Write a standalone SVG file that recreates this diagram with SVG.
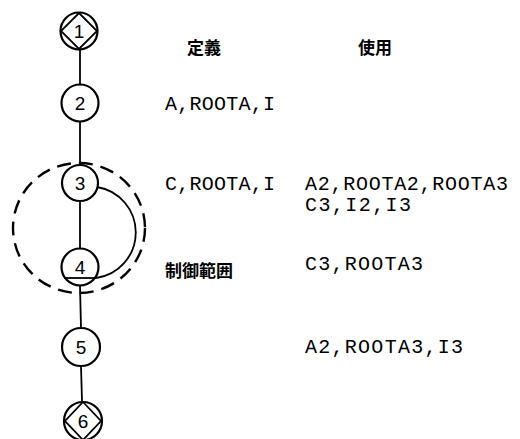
<svg xmlns="http://www.w3.org/2000/svg" width="520" height="439" viewBox="0 0 520 439">
<style>
.node circle{fill:#fff;stroke:#000;stroke-width:2.2}
.num{font-family:"Liberation Sans",Arial,sans-serif;font-size:19px;text-anchor:middle;fill:#000}
.dia{fill:none;stroke:#000;stroke-width:1.8}
.edge{stroke:#000;stroke-width:1.8;fill:none}
.mono{font-family:"Liberation Mono","Courier New",monospace;font-size:20px;fill:#000}
.cjk{font-family:"Noto Sans CJK JP","Noto Sans CJK SC",sans-serif;font-size:17px;font-weight:bold;fill:#000}
</style>
<rect width="520" height="439" fill="#fff"/>
<g id="connectors">
<line class="edge" x1="80" y1="49" x2="80" y2="85"/>
<line class="edge" x1="80" y1="122" x2="80" y2="165"/>
<line class="edge" x1="80" y1="201" x2="80" y2="249"/>
<line class="edge" x1="80" y1="286" x2="81" y2="328"/>
<line class="edge" x1="81" y1="366" x2="82" y2="401"/>
<path class="edge" d="M97,187 A46 46 0 0 1 96,278"/>
<ellipse cx="79" cy="228" rx="66" ry="65" fill="none" stroke="#000" stroke-width="2.4" stroke-dasharray="14 8"/>
</g>
<g id="n1" class="node">
<circle cx="79" cy="31" r="18.5"/>
<polygon class="dia" points="79,13 97,31 79,49 61,31"/>
<text class="num" x="79" y="38">1</text>
</g>
<g id="n2" class="node">
<circle cx="80" cy="103" r="18.5"/>
<text class="num" x="80" y="110">2</text>
</g>
<g id="n3" class="node">
<circle cx="80" cy="183" r="18"/>
<text class="num" x="80" y="190">3</text>
</g>
<g id="n4" class="node">
<circle cx="80" cy="267" r="18.5"/>
<line class="edge" x1="64" y1="278" x2="96" y2="278"/>
<text class="num" x="80" y="274">4</text>
</g>
<g id="n5" class="node">
<circle cx="81" cy="347" r="19"/>
<text class="num" x="81" y="354">5</text>
</g>
<g id="n6" class="node">
<circle cx="83" cy="421" r="19"/>
<polygon class="dia" points="83,402 101,421 83,440 65,421"/>
<text class="num" x="83" y="428">6</text>
</g>
<g id="labels">
<text class="cjk" x="187" y="54">定義</text>
<text class="cjk" x="358" y="54">使用</text>
<text class="mono" x="165" y="110" textLength="110" lengthAdjust="spacing">A,ROOTA,I</text>
<text class="mono" x="165" y="190" textLength="110" lengthAdjust="spacing">C,ROOTA,I</text>
<text class="mono" x="305" y="190" textLength="203" lengthAdjust="spacing">A2,ROOTA2,ROOTA3</text>
<text class="mono" x="305" y="211" textLength="106" lengthAdjust="spacing">C3,I2,I3</text>
<text class="cjk" x="165" y="277">制御範囲</text>
<text class="mono" x="305" y="270" textLength="118" lengthAdjust="spacing">C3,ROOTA3</text>
<text class="mono" x="305" y="353" textLength="158" lengthAdjust="spacing">A2,ROOTA3,I3</text>
</g>
</svg>
